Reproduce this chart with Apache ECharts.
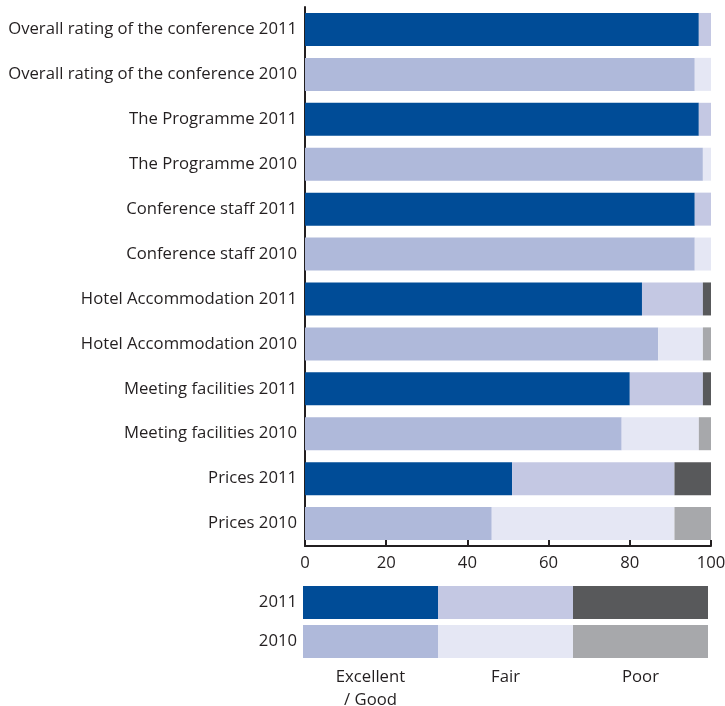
<!DOCTYPE html>
<html>
<head>
<meta charset="utf-8">
<script src="https://cdn.jsdelivr.net/npm/echarts@6/dist/echarts.min.js"></script>
<style>
  html, body { margin: 0; padding: 0; background: #fff; }
  #main { width: 725px; height: 706px; }
</style>
</head>
<body>
<div id="main"></div>
<script>
// categories, top to bottom
var categories = [
    'Overall rating of the conference 2011',
    'Overall rating of the conference 2010',
    'The Programme 2011',
    'The Programme 2010',
    'Conference staff 2011',
    'Conference staff 2010',
    'Hotel Accommodation 2011',
    'Hotel Accommodation 2010',
    'Meeting facilities 2011',
    'Meeting facilities 2010',
    'Prices 2011',
    'Prices 2010'
];
// percentages
var excellentGood = [97, 96, 97, 98, 96, 96, 83, 87, 80, 78, 51, 46];
var fair          = [3, 4, 3, 2, 4, 4, 15, 11, 18, 19, 40, 45];
var poor          = [0, 0, 0, 0, 0, 0, 2, 2, 2, 3, 9, 9];
var xTicks = [0, 20, 40, 60, 80, 100];

// key at the bottom
var keyYears = ['2011', '2010'];
var keyLevels = ['Excellent\n/ Good', 'Fair', 'Poor'];

var colors = {
    '2011': ['#004C97', '#C4C8E3', '#58595B'],
    '2010': ['#AFB9DA', '#E5E7F4', '#A7A8AB']
};
var levelData = [excellentGood, fair, poor];
var textColor = '#231F20';
var font = 'Open Sans';
var fs = 16.7;

function yearOf(name) {
    return name.slice(-4);
}

var series = [];
levelData.forEach(function (vals, k) {
    series.push({
        type: 'bar',
        stack: 'main',
        xAxisIndex: 0,
        yAxisIndex: 0,
        barWidth: 33,
        silent: true,
        data: vals.map(function (v, i) {
            return { value: v, itemStyle: { color: colors[yearOf(categories[i])][k] } };
        })
    });
});
// key bars, one segment per level
keyLevels.forEach(function (lv, k) {
    series.push({
        type: 'bar',
        stack: 'key',
        xAxisIndex: 1,
        yAxisIndex: 1,
        barWidth: 33,
        silent: true,
        data: keyYears.map(function (y) {
            return { value: 1, itemStyle: { color: colors[y][k] } };
        })
    });
});

var chart = echarts.init(document.getElementById('main'));
chart.setOption({
    animation: false,
    textStyle: { fontFamily: font },
    grid: [
        { left: 305, width: 406, top: 7, height: 539, outerBoundsMode: 'none' },
        { left: 303, width: 405, top: 583, height: 78, outerBoundsMode: 'none' }
    ],
    xAxis: [
        {
            gridIndex: 0, type: 'value', min: xTicks[0], max: xTicks[xTicks.length - 1], interval: 20,
            splitLine: { show: false },
            axisLine: { show: true, lineStyle: { color: textColor, width: 2 } },
            axisTick: { show: true, inside: true, length: 6, lineStyle: { color: textColor, width: 2 } },
            axisLabel: { color: textColor, fontSize: fs, margin: 9, fontFamily: font }
        },
        {
            gridIndex: 1, type: 'value', min: 0, max: keyLevels.length, show: false
        },
        {
            gridIndex: 1, type: 'category', data: keyLevels, position: 'bottom',
            axisLine: { show: false }, axisTick: { show: false },
            axisLabel: { color: textColor, fontSize: fs, margin: 5, lineHeight: 23, fontFamily: font }
        }
    ],
    yAxis: [
        {
            gridIndex: 0, type: 'category', data: categories, inverse: true,
            axisLine: { show: true, lineStyle: { color: textColor, width: 2 } },
            axisTick: { show: false },
            axisLabel: { color: textColor, fontSize: fs, margin: 8, padding: [6, 0, 0, 0], fontFamily: font }
        },
        {
            gridIndex: 1, type: 'category', data: keyYears, inverse: true,
            axisLine: { show: false }, axisTick: { show: false },
            axisLabel: { color: textColor, fontSize: fs, margin: 6, padding: [3, 0, 0, 0], fontFamily: font }
        }
    ],
    series: series
});
</script>
</body>
</html>
